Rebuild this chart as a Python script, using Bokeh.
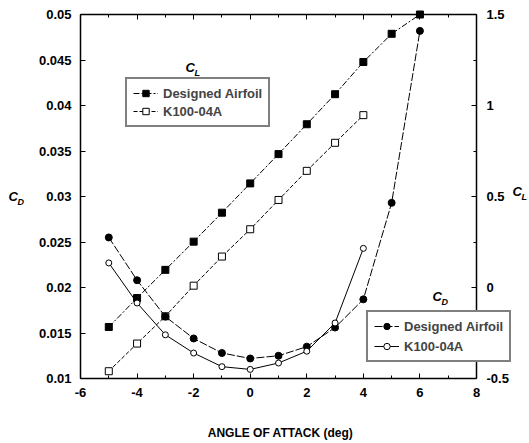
from bokeh.plotting import figure
from bokeh.models import Range1d, LinearAxis, Legend, LegendItem, Label, FixedTicker
from bokeh.embed import file_html
from bokeh.resources import INLINE

# ---------------- data ----------------
alpha_des = [-5, -4, -3, -2, -1, 0, 1, 2, 3, 4, 5, 6]
cl_des = [-0.217, -0.058, 0.097, 0.252, 0.411, 0.572, 0.733, 0.897, 1.062, 1.239, 1.394, 1.5]
cd_des = [0.0255, 0.0208, 0.0168, 0.0144, 0.0128, 0.0122, 0.0125, 0.0135, 0.0156, 0.0187, 0.0293, 0.0482]

alpha_k = [-5, -4, -3, -2, -1, 0, 1, 2, 3, 4]
cl_k = [-0.46, -0.308, -0.158, 0.010, 0.170, 0.320, 0.481, 0.641, 0.795, 0.947]
cd_k = [0.0227, 0.0183, 0.0148, 0.0128, 0.0113, 0.0110, 0.0117, 0.0130, 0.0161, 0.0243]

x_ticks = [-6, -4, -2, 0, 2, 4, 6, 8]
x_tick_labels = ["-6", "-4", "-2", "0", "2", "4", "6", "8"]
x_minor = [-5, -3, -1, 1, 3, 5, 7]
cd_ticks = [0.01, 0.015, 0.02, 0.025, 0.03, 0.035, 0.04, 0.045, 0.05]
cd_tick_labels = ["0.01", "0.015", "0.02", "0.025", "0.03", "0.035", "0.04", "0.045", "0.05"]
cl_ticks = [-0.5, 0.0, 0.5, 1.0, 1.5]
cl_minor = [-0.25, 0.25, 0.75, 1.25]
cl_tick_labels = ["-0.5", "0", "0.5", "1", "1.5"]

series_names = ["Designed Airfoil", "K100-04A"]
x_title = "ANGLE OF ATTACK (deg)"

FONT = "Liberation Sans"

# axis limits of the chart box
X0, X1 = -6, 8
CD0, CD1 = 0.01, 0.05
CL0, CL1 = -0.5, 1.5

# canvas geometry: the frame fills the whole canvas, the axes sit at fixed
# locations so that texts outside the data box are not clipped
W, H = 529, 443
BOX_L, BOX_R, BOX_T, BOX_B = 80, 476, 14, 378
xpx = (BOX_R - BOX_L) / (X1 - X0)
cdpx = (BOX_B - BOX_T) / (CD1 - CD0)
clpx = (BOX_B - BOX_T) / (CL1 - CL0)

p = figure(width=W, height=H,
           x_range=Range1d(X0 - BOX_L / xpx, X1 + (W - BOX_R) / xpx),
           y_range=Range1d(CD0 - (H - BOX_B) / cdpx, CD1 + BOX_T / cdpx),
           output_backend="svg", toolbar_location=None,
           min_border_left=0, min_border_right=0, min_border_top=0, min_border_bottom=0)
p.extra_y_ranges = {"cl": Range1d(CL0 - (H - BOX_B) / clpx, CL1 + BOX_T / clpx)}
p.xaxis.visible = False
p.yaxis.visible = False
p.xgrid.visible = False
p.ygrid.visible = False
p.outline_line_color = None
p.background_fill_color = "white"
p.border_fill_color = "white"


def px_x(px):
    return X0 + (px - BOX_L) / xpx


def px_cd(py):
    return CD1 - (py - BOX_T) / cdpx


def style_axis(ax, labels=True):
    ax.axis_line_color = "black"
    ax.axis_line_width = 1.5
    ax.major_tick_in = 5
    ax.major_tick_out = 0
    ax.minor_tick_in = 3
    ax.minor_tick_out = 0
    ax.major_tick_line_color = "black"
    ax.minor_tick_line_color = "black"
    ax.major_label_text_font = FONT
    ax.major_label_text_font_style = "bold"
    ax.major_label_text_font_size = "13px"
    ax.major_label_text_color = "black" if labels else None


# bottom axis
xa = LinearAxis(ticker=FixedTicker(ticks=x_ticks, minor_ticks=x_minor),
                fixed_location=CD0, bounds=(X0, X1))
xa.major_label_overrides = {t: s for t, s in zip(x_ticks, x_tick_labels)}
style_axis(xa)
xa.major_label_standoff = 9
p.add_layout(xa, "below")

# top axis (ticks only)
xt = LinearAxis(ticker=FixedTicker(ticks=x_ticks, minor_ticks=x_minor),
                fixed_location=CD1, bounds=(X0, X1))
style_axis(xt, labels=False)
p.add_layout(xt, "above")

# left axis (C_D)
ya = LinearAxis(ticker=FixedTicker(ticks=cd_ticks, minor_ticks=[]),
                fixed_location=X0, bounds=(CD0, CD1))
ya.major_label_overrides = {t: s for t, s in zip(cd_ticks, cd_tick_labels)}
style_axis(ya)
ya.major_label_standoff = 9
p.add_layout(ya, "left")

# right axis (C_L)
yr = LinearAxis(y_range_name="cl", ticker=FixedTicker(ticks=cl_ticks, minor_ticks=cl_minor),
                fixed_location=X1, bounds=(CL0, CL1))
yr.major_label_overrides = {t: s for t, s in zip(cl_ticks, cl_tick_labels)}
style_axis(yr)
yr.major_label_standoff = 10
p.add_layout(yr, "right")

# ---------------- C_L curves ----------------
l1 = p.line(alpha_des, cl_des, y_range_name="cl", line_color="black", line_width=1, line_dash="6 2 2 2")
m1 = p.scatter(alpha_des, cl_des, y_range_name="cl", marker="square", size=7,
               fill_color="black", line_color="black")
l2 = p.line(alpha_k, cl_k, y_range_name="cl", line_color="black", line_width=1, line_dash="4 2")
m2 = p.scatter(alpha_k, cl_k, y_range_name="cl", marker="square", size=7,
               fill_color="white", line_color="black", line_width=1)

# ---------------- C_D curves ----------------
l3 = p.line(alpha_des, cd_des, line_color="black", line_width=1, line_dash="8 2")
m3 = p.scatter(alpha_des, cd_des, marker="circle", size=7, fill_color="black", line_color="black")
l4 = p.line(alpha_k, cd_k, line_color="black", line_width=1)
m4 = p.scatter(alpha_k, cd_k, marker="circle", size=6, fill_color="white", line_color="black", line_width=1)


def make_legend(items, loc, spacing):
    return Legend(items=items, location=loc, margin=0, padding=6, spacing=spacing,
                  border_line_color="black", border_line_width=2,
                  background_fill_color="white", background_fill_alpha=1,
                  label_text_font=FONT, label_text_font_style="bold", label_text_font_size="13px",
                  glyph_width=25, glyph_height=16, label_height=16, label_standoff=5)


leg1 = make_legend([LegendItem(label=series_names[0], renderers=[l1, m1]),
                    LegendItem(label=series_names[1], renderers=[l2, m2])],
                   (125, H - 127), 2)
leg2 = make_legend([LegendItem(label=series_names[0], renderers=[l3, m3]),
                    LegendItem(label=series_names[1], renderers=[l4, m4])],
                   (366, H - 362), 4)
p.add_layout(leg1)
p.add_layout(leg2)


def sym(px, py, main, sub, big=13, small=9):
    p.add_layout(Label(x=px_x(px), y=px_cd(py), text=main, text_font=FONT,
                       text_font_style="bold italic", text_font_size=f"{big}px",
                       text_baseline="alphabetic", text_color="black"))
    p.add_layout(Label(x=px_x(px + 9), y=px_cd(py + 5), text=sub, text_font=FONT,
                       text_font_style="bold italic", text_font_size=f"{small}px",
                       text_baseline="alphabetic", text_color="black"))


sym(8, 196, "C", "D")        # left axis title
sym(512, 191, "C", "L")      # right axis title
sym(185, 67, "C", "L")       # caption of the C_L legend
sym(432, 296, "C", "D")      # caption of the C_D legend

p.add_layout(Label(x=px_x(280), y=px_cd(432), text=x_title, text_font=FONT,
                   text_font_style="bold", text_font_size="12px", text_align="center",
                   text_baseline="alphabetic", text_color="black"))

open("out.html", "w").write(file_html(p, INLINE))
